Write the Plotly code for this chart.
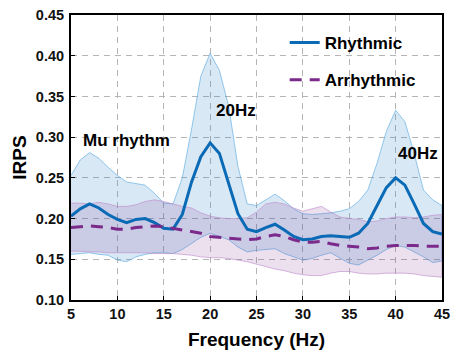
import plotly.graph_objects as go

freq = list(range(5, 46))

rhythmic_mean = [0.203, 0.212, 0.218, 0.213, 0.205, 0.199, 0.195, 0.199, 0.200, 0.195,
                 0.188, 0.187, 0.205, 0.245, 0.276, 0.293, 0.280, 0.243, 0.206, 0.187,
                 0.184, 0.189, 0.193, 0.186, 0.178, 0.174, 0.175, 0.178, 0.179, 0.178,
                 0.177, 0.182, 0.194, 0.216, 0.238, 0.250, 0.241, 0.218, 0.194, 0.184, 0.181]
rhythmic_upper = [0.253, 0.272, 0.281, 0.274, 0.263, 0.253, 0.245, 0.243, 0.241, 0.231,
                  0.219, 0.218, 0.250, 0.310, 0.375, 0.403, 0.382, 0.338, 0.264, 0.218,
                  0.216, 0.223, 0.230, 0.222, 0.212, 0.206, 0.205, 0.206, 0.207, 0.209,
                  0.212, 0.221, 0.235, 0.268, 0.307, 0.333, 0.319, 0.280, 0.235, 0.223, 0.216]
rhythmic_lower = [0.156, 0.157, 0.158, 0.156, 0.155, 0.149, 0.147, 0.153, 0.156, 0.158,
                  0.158, 0.157, 0.162, 0.170, 0.177, 0.182, 0.178, 0.174, 0.165, 0.159,
                  0.161, 0.162, 0.163, 0.157, 0.153, 0.149, 0.151, 0.155, 0.158, 0.151,
                  0.145, 0.143, 0.149, 0.155, 0.162, 0.167, 0.165, 0.159, 0.153, 0.146, 0.148]

arrhythmic_mean = [0.189, 0.190, 0.191, 0.190, 0.189, 0.187, 0.187, 0.189, 0.190, 0.191,
                   0.190, 0.188, 0.186, 0.184, 0.182, 0.178, 0.177, 0.176, 0.175, 0.174,
                   0.175, 0.178, 0.180, 0.178, 0.174, 0.171, 0.171, 0.172, 0.169, 0.167,
                   0.166, 0.165, 0.163, 0.164, 0.166, 0.167, 0.167, 0.167, 0.166, 0.166, 0.166]
arrhythmic_upper = [0.219, 0.219, 0.218, 0.220, 0.218, 0.215, 0.215, 0.217, 0.221, 0.223,
                    0.221, 0.218, 0.215, 0.213, 0.207, 0.203, 0.201, 0.200, 0.200, 0.201,
                    0.208, 0.218, 0.220, 0.218, 0.213, 0.209, 0.212, 0.215, 0.208, 0.202,
                    0.200, 0.199, 0.196, 0.197, 0.200, 0.202, 0.202, 0.201, 0.202, 0.204, 0.205]
arrhythmic_lower = [0.160, 0.160, 0.159, 0.159, 0.158, 0.158, 0.158, 0.158, 0.158, 0.157,
                    0.157, 0.157, 0.156, 0.155, 0.153, 0.152, 0.152, 0.151, 0.149, 0.147,
                    0.144, 0.141, 0.138, 0.136, 0.133, 0.131, 0.130, 0.130, 0.133, 0.135,
                    0.135, 0.133, 0.132, 0.132, 0.133, 0.133, 0.133, 0.132, 0.130, 0.129, 0.128]

x_ticks = [5, 10, 15, 20, 25, 30, 35, 40, 45]
y_ticks = [0.10, 0.15, 0.20, 0.25, 0.30, 0.35, 0.40, 0.45]
y_tick_labels = ["0.10", "0.15", "0.20", "0.25", "0.30", "0.35", "0.40", "0.45"]

annotations_text = [("Mu rhythm", 11.0, 0.296), ("20Hz", 22.8, 0.333), ("40Hz", 42.4, 0.280)]

BLUE = "#0a6ab5"
PURPLE = "#7b2a8b"
FONT = "Liberation Sans, Arial, sans-serif"

fig = go.Figure()

# bands
fig.add_trace(go.Scatter(
    x=freq + freq[::-1], y=rhythmic_upper + rhythmic_lower[::-1],
    fill="toself", fillcolor="rgba(40,130,200,0.18)",
    line=dict(color="rgba(90,170,225,0.8)", width=0.8),
    hoverinfo="skip", showlegend=False))
fig.add_trace(go.Scatter(
    x=freq + freq[::-1], y=arrhythmic_upper + arrhythmic_lower[::-1],
    fill="toself", fillcolor="rgba(126,47,142,0.15)",
    line=dict(color="rgba(190,140,205,0.8)", width=0.8),
    hoverinfo="skip", showlegend=False))

# mean lines
fig.add_trace(go.Scatter(
    x=freq, y=rhythmic_mean, mode="lines", name="Rhythmic",
    line=dict(color=BLUE, width=3), legendgroup="a"))
fig.add_trace(go.Scatter(
    x=freq, y=arrhythmic_mean, mode="lines", name="Arrhythmic",
    line=dict(color=PURPLE, width=3, dash="12px,8px"), legendgroup="b"))

for txt, xv, yv in annotations_text:
    fig.add_annotation(x=xv, y=yv, text=txt, showarrow=False,
                       font=dict(family=FONT, size=17, color="black", weight="bold"))

axis_common = dict(
    showline=True, linecolor="black", linewidth=2, mirror=True,
    ticks="inside", ticklen=4, tickcolor="black", tickwidth=1,
    showgrid=True, gridcolor="#b5b5b5", griddash="6px,5px", gridwidth=1,
    zeroline=False, automargin=False,
    tickfont=dict(family=FONT, size=14.5, color="#111", weight="bold"),
)

fig.update_xaxes(range=[5, 45], tickvals=x_ticks,
                 title=dict(text="Frequency (Hz)", standoff=12,
                            font=dict(family=FONT, size=19, color="black", weight="bold")),
                 **axis_common)
fig.update_yaxes(range=[0.10, 0.45], tickvals=y_ticks, ticktext=y_tick_labels,
                 ticklabelstandoff=2,
                 title=dict(text="IRPS", standoff=4,
                            font=dict(family=FONT, size=19, color="black", weight="bold")),
                 **axis_common)

fig.update_layout(
    width=452, height=350,
    margin=dict(l=71, r=10, t=15, b=50),
    paper_bgcolor="white", plot_bgcolor="white",
    showlegend=True,
    legend=dict(x=0.576, y=0.965, xanchor="left", yanchor="top",
                bgcolor="rgba(0,0,0,0)", tracegroupgap=12,
                itemwidth=30,
                font=dict(family=FONT, size=17, color="black", weight="bold")),
)

fig.write_html("out.html")
